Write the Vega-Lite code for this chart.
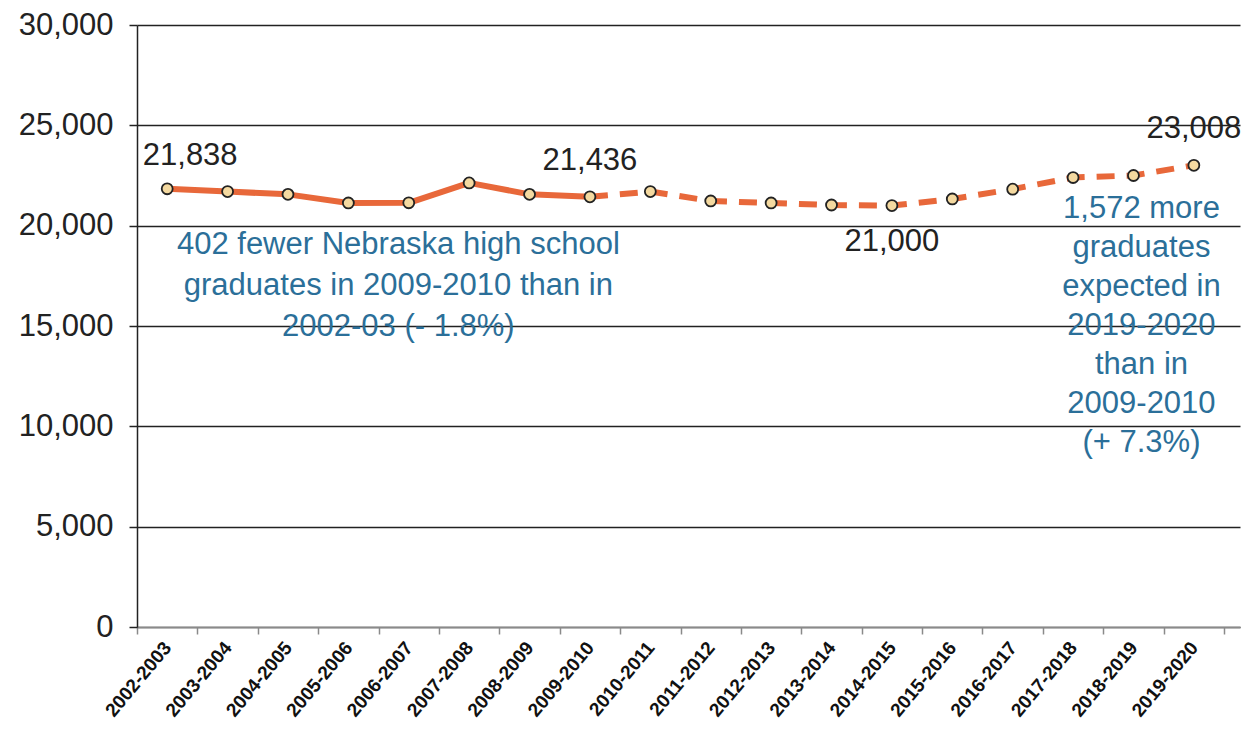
{
  "$schema": "https://vega.github.io/schema/vega-lite/v6.json",
  "width": 1103,
  "height": 602,
  "autosize": {"type": "none"},
  "padding": {"left": 137, "top": 25, "right": 8, "bottom": 117},
  "background": "white",
  "config": {
    "view": {"stroke": null},
    "font": "Liberation Sans"
  },
  "datasets": {
    "grads": [
      {"year": "2002-2003", "graduates": 21838, "actual": true, "projected": false},
      {"year": "2003-2004", "graduates": 21700, "actual": true, "projected": false},
      {"year": "2004-2005", "graduates": 21560, "actual": true, "projected": false},
      {"year": "2005-2006", "graduates": 21130, "actual": true, "projected": false},
      {"year": "2006-2007", "graduates": 21140, "actual": true, "projected": false},
      {"year": "2007-2008", "graduates": 22130, "actual": true, "projected": false},
      {"year": "2008-2009", "graduates": 21560, "actual": true, "projected": false},
      {"year": "2009-2010", "graduates": 21436, "actual": true, "projected": true},
      {"year": "2010-2011", "graduates": 21700, "actual": false, "projected": true},
      {"year": "2011-2012", "graduates": 21230, "actual": false, "projected": true},
      {"year": "2012-2013", "graduates": 21130, "actual": false, "projected": true},
      {"year": "2013-2014", "graduates": 21030, "actual": false, "projected": true},
      {"year": "2014-2015", "graduates": 21000, "actual": false, "projected": true},
      {"year": "2015-2016", "graduates": 21330, "actual": false, "projected": true},
      {"year": "2016-2017", "graduates": 21820, "actual": false, "projected": true},
      {"year": "2017-2018", "graduates": 22400, "actual": false, "projected": true},
      {"year": "2018-2019", "graduates": 22500, "actual": false, "projected": true},
      {"year": "2019-2020", "graduates": 23008, "actual": false, "projected": true}
    ],
    "notes": [
      {"year": "2005-2006", "anchor": 19800, "side": "left", "note": "402 fewer Nebraska high school\ngraduates in 2009-2010 than in\n2002-03 (- 1.8%)"},
      {"year": "2018-2019", "anchor": 21600, "side": "right", "note": "1,572 more\ngraduates\nexpected in\n2019-2020\nthan in\n2009-2010\n(+ 7.3%)"}
    ]
  },
  "encoding": {
    "x": {
      "field": "year",
      "type": "ordinal",
      "scale": {
        "domain": ["2002-2003", "2003-2004", "2004-2005", "2005-2006", "2006-2007", "2007-2008", "2008-2009", "2009-2010", "2010-2011", "2011-2012", "2012-2013", "2013-2014", "2014-2015", "2015-2016", "2016-2017", "2017-2018", "2018-2019", "2019-2020"],
        "paddingInner": 0,
        "paddingOuter": 0.132,
        "align": 0
      },
      "axis": {
        "title": null,
        "labelAngle": -50,
        "labelAlign": "right",
        "labelBaseline": "middle",
        "labelFontSize": 19,
        "labelFontWeight": "bold",
        "labelColor": "#111111",
        "labelPadding": 10,
        "domainColor": "#8a8a8a",
        "domainWidth": 1.5,
        "tickColor": "#8a8a8a",
        "tickWidth": 1.5,
        "tickSize": 7,
        "tickBand": "extent",
        "grid": false
      }
    },
    "y": {
      "field": "graduates",
      "type": "quantitative",
      "scale": {"domain": [0, 30000], "nice": false, "zero": true},
      "axis": {
        "title": null,
        "values": [0, 5000, 10000, 15000, 20000, 25000, 30000],
        "format": ",.0f",
        "labelFontSize": 31,
        "labelColor": "#222222",
        "labelPadding": 16,
        "domainColor": "#222222",
        "domainWidth": 1.5,
        "tickColor": "#222222",
        "tickWidth": 1.5,
        "tickSize": 8,
        "grid": true,
        "gridColor": "#222222",
        "gridWidth": 1.5
      }
    }
  },
  "layer": [
    {
      "data": {"name": "grads"},
      "transform": [{"filter": "datum.actual"}],
      "mark": {"type": "line", "color": "#e8683a", "strokeWidth": 6, "strokeCap": "round", "strokeJoin": "round"}
    },
    {
      "data": {"name": "grads"},
      "transform": [{"filter": "datum.projected"}],
      "mark": {"type": "line", "color": "#e8683a", "strokeWidth": 6, "strokeDash": [18, 12], "strokeJoin": "round"}
    },
    {
      "data": {"name": "grads"},
      "mark": {"type": "point", "filled": true, "fill": "#f4d9a0", "stroke": "#222222", "strokeWidth": 1.8, "opacity": 1, "size": 120}
    },
    {
      "data": {"name": "grads"},
      "transform": [{"filter": "datum.year === '2002-2003'"}],
      "mark": {"type": "text", "fontSize": 31, "color": "#222222", "dx": 23, "dy": -33, "baseline": "middle"},
      "encoding": {"text": {"field": "graduates", "type": "quantitative", "format": ","}}
    },
    {
      "data": {"name": "grads"},
      "transform": [{"filter": "datum.year === '2009-2010' || datum.year === '2019-2020'"}],
      "mark": {"type": "text", "fontSize": 31, "color": "#222222", "dy": -36, "baseline": "middle"},
      "encoding": {"text": {"field": "graduates", "type": "quantitative", "format": ","}}
    },
    {
      "data": {"name": "grads"},
      "transform": [{"filter": "datum.year === '2014-2015'"}],
      "mark": {"type": "text", "fontSize": 31, "color": "#222222", "dy": 36, "baseline": "middle"},
      "encoding": {"text": {"field": "graduates", "type": "quantitative", "format": ","}}
    },
    {
      "data": {"name": "notes"},
      "transform": [{"filter": "datum.side === 'left'"}],
      "mark": {"type": "text", "fontSize": 31, "color": "#2b6f99", "lineBreak": "\n", "lineHeight": 41, "baseline": "top", "align": "center", "dx": 50},
      "encoding": {
        "y": {"field": "anchor", "type": "quantitative"},
        "text": {"field": "note"}
      }
    },
    {
      "data": {"name": "notes"},
      "transform": [{"filter": "datum.side === 'right'"}],
      "mark": {"type": "text", "fontSize": 31, "color": "#2b6f99", "lineBreak": "\n", "lineHeight": 39, "baseline": "top", "align": "center", "dx": 8},
      "encoding": {
        "y": {"field": "anchor", "type": "quantitative"},
        "text": {"field": "note"}
      }
    }
  ]
}
